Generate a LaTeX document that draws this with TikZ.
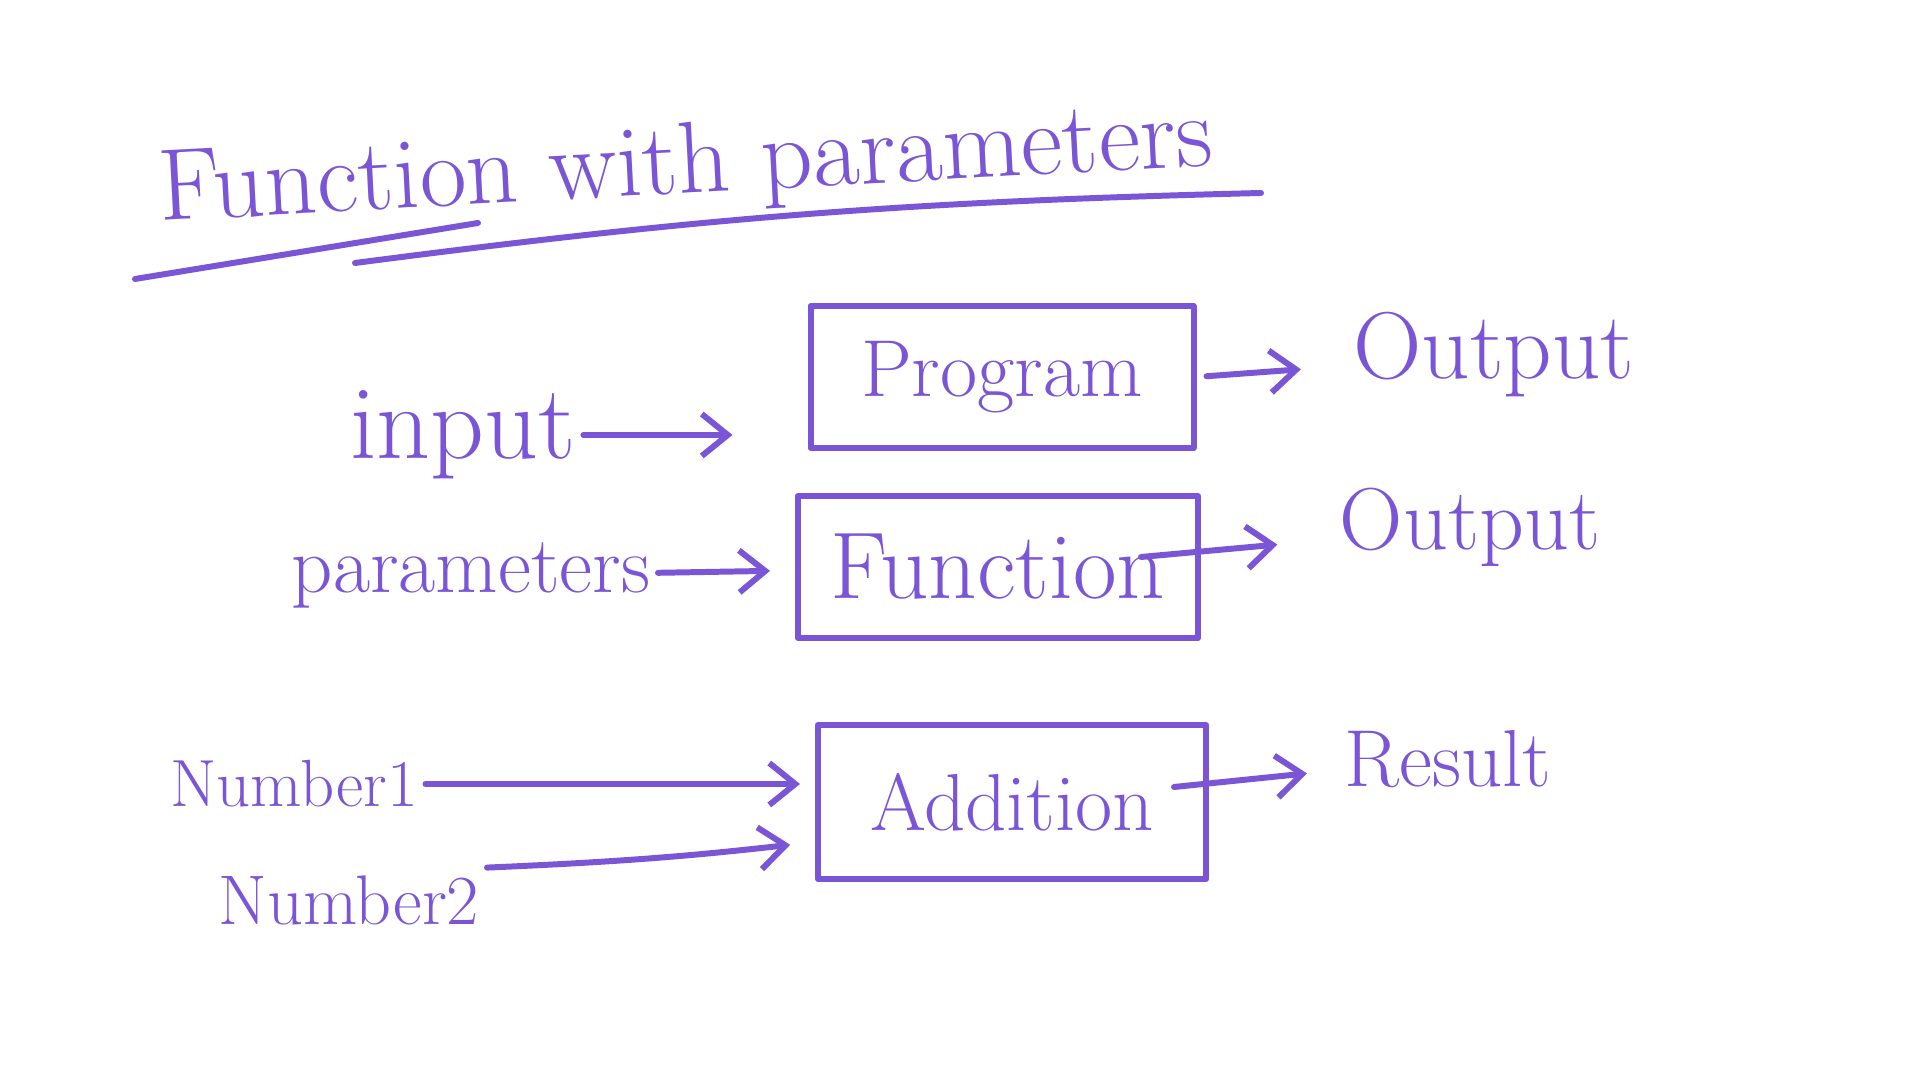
\documentclass[tikz,border=0pt]{standalone}
\usepackage{xcolor}
\usetikzlibrary{arrows.meta}

\definecolor{pen}{RGB}{122,86,214}

\begin{document}
\begin{tikzpicture}[
  ink/.style={draw=pen, line width=1.7pt, line cap=round, line join=round},
  word/.style={text=pen, inner sep=2pt, font=\fontsize{23}{27}\selectfont},
  box/.style={ink, minimum width=3.9cm, minimum height=1.42cm, word},
  arrow/.style={ink, -{Straight Barb[length=2.6mm, width=4.2mm, line width=1.7pt]}}
]
\useasboundingbox (0,0) rectangle (19.2,10.8);

% title and its underlines
\node[word, font=\fontsize{29}{33}\selectfont, rotate=3] (title) at (6.86,9.12) {Function with parameters};
\draw[ink] (1.35,8.01) -- (4.78,8.57);
\draw[ink] (3.55,8.17) to[bend left=3] (12.61,8.87);

% boxes
\node[box, minimum width=3.83cm] (program) at (10.02,7.03) {Program};
\node[box, minimum width=4.0cm, font=\fontsize{27}{31}\selectfont] (function) at (9.98,5.13) {Function};
\node[box, minimum width=3.88cm, minimum height=1.54cm] (addition) at (10.12,2.78) {Addition};

% inputs
\node[word, font=\fontsize{30}{34}\selectfont] (input) at (4.63,6.45) {input};
\node[word] (params) at (4.71,5.04) {parameters};
\node[word, font=\fontsize{19}{23}\selectfont] (numone) at (2.94,2.96) {Number1};
\node[word, font=\fontsize{20}{24}\selectfont] (numtwo) at (3.49,1.80) {Number2};

% outputs
\node[word, font=\fontsize{27}{31}\selectfont] (outone) at (14.94,7.25) {Output};
\node[word, font=\fontsize{25}{29}\selectfont] (outtwo) at (14.70,5.53) {Output};
\node[word] (result) at (14.48,3.21) {Result};

\draw[arrow, shorten >=0.75cm] (input.east) -- (input.east -| program.west);
\draw[arrow, shorten >=0.25cm] (params) -- (function);
\draw[arrow, shorten >=0.15cm] (numone.east) -- (numone.east -| addition.west);
\draw[arrow, shorten >=0.25cm] (numtwo.north east) to[bend right=2] ([yshift=-0.4cm]addition.west);

\draw[arrow, shorten <=0.1cm, shorten >=0.45cm] (program.east) -- (outone);
\draw[arrow, shorten >=0.55cm] ([xshift=-0.6cm,yshift=0.1cm]function.east) -- (outtwo);
\draw[arrow, shorten >=0.3cm] ([xshift=-0.35cm,yshift=0.15cm]addition.east) -- (result);

\end{tikzpicture}
\end{document}
